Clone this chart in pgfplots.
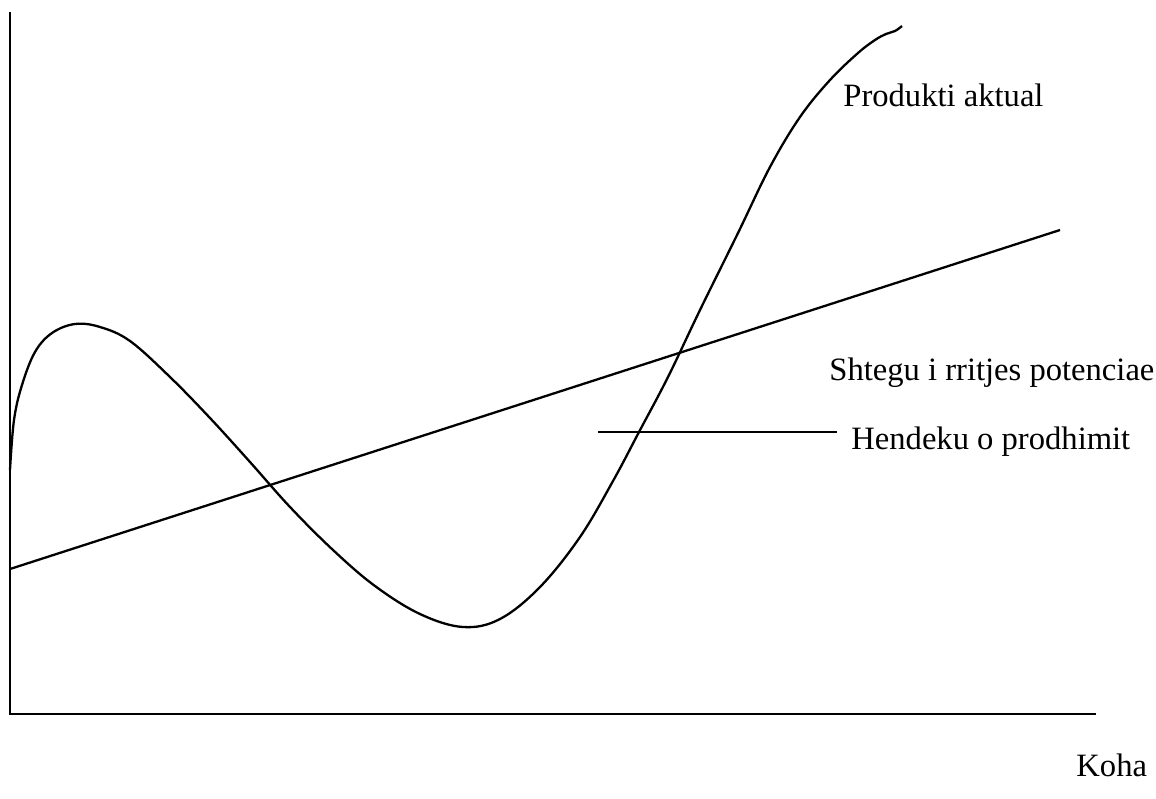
\documentclass[border=0pt]{standalone}
\usepackage{pgfplots}
\pgfplotsset{compat=1.18}
\usepackage{fontspec}
\setmainfont{Liberation Serif}
\begin{document}
\begin{tikzpicture}
\begin{axis}[
  width=578pt, height=399pt, scale only axis,
  xmin=0, xmax=1156, ymin=0, ymax=798,
  y dir=reverse,
  axis line style={draw=none}, ticks=none,
  clip=false,
  every axis plot/.append style={line width=1.15pt, black},
]
% axes
\addplot[no marks] coordinates {(10,12) (10,714) (1096,714)};
% potential growth path
\addplot[no marks] coordinates {(10,569) (1060,230)};
% output gap marker line
\addplot[no marks] coordinates {(598,432) (837,432)};
% actual output
\addplot[no marks, smooth, tension=0.6] coordinates {
(10,470) (14,420) (22,385) (35,352) (52,333) (75,324) (100,327) (130,341) (170,377) (210,418) (250,462) (290,507) (333,550) (375,586) (420,614) (463,627) (500,619) (540,587) (580,537) (613,481) (639,432) (668,377) (700,310) (738,233) (770,167) (800,117) (830,80) (858,53) (875,40) (886,34) (895,31) (902,26)};
\node[anchor=base west, inner sep=0pt, font=\fontsize{16.3}{19}\selectfont] at (axis cs:843,106) {Produkti aktual};
\node[anchor=base west, inner sep=0pt, font=\fontsize{16.3}{19}\selectfont] at (axis cs:829,380) {Shtegu i rritjes potenciae};
\node[anchor=base west, inner sep=0pt, font=\fontsize{16.3}{19}\selectfont] at (axis cs:851,449) {Hendeku o prodhimit};
\node[anchor=base west, inner sep=0pt, font=\fontsize{16.3}{19}\selectfont] at (axis cs:1076,776) {Koha};
\end{axis}
\end{tikzpicture}
\end{document}
